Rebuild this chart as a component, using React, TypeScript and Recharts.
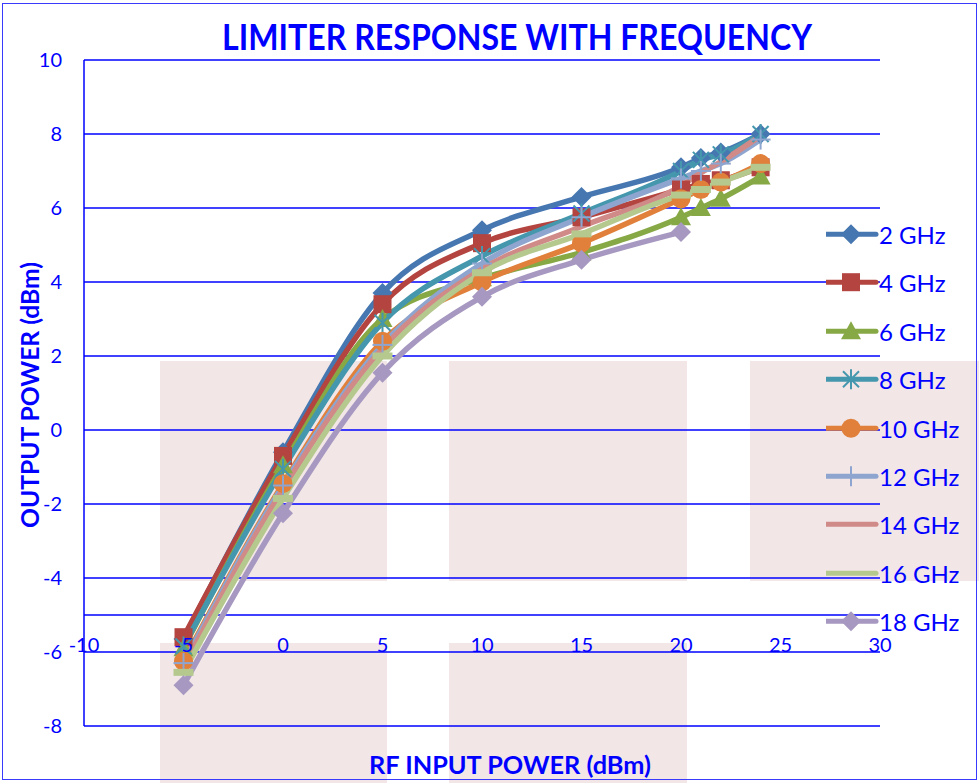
import { CartesianGrid, Line, LineChart, ReferenceLine, XAxis, YAxis } from "recharts";

// RF input power (dBm) at which each frequency was measured
const inputPower = [-5, 0, 5, 10, 15, 20, 21, 22, 24];

// output power (dBm) per frequency
const out2GHz = [-5.65, -0.6, 3.7, 5.4, 6.3, 7.1, 7.35, 7.5, 8.0];
const out4GHz = [-5.6, -0.7, 3.4, 5.05, 5.75, 6.5, 6.65, 6.75, 7.1];
const out6GHz = [-5.9, -0.95, 3.0, 4.1, 4.8, 5.75, 6.0, 6.25, 6.85];
const out8GHz = [-5.85, -1.05, 2.9, 4.7, 5.85, 7.0, 7.3, 7.45, 8.0];
const out10GHz = [-6.25, -1.45, 2.4, 4.0, 5.05, 6.25, 6.5, 6.7, 7.2];
const out12GHz = [-6.3, -1.5, 2.3, 4.5, 5.75, 6.8, 7.0, 7.2, 7.85];
const out14GHz = [-6.4, -1.6, 2.2, 4.35, 5.5, 6.6, 6.95, 7.25, 7.95];
const out16GHz = [-6.55, -1.85, 2.0, 4.25, 5.3, 6.35, 6.5, 6.7, 7.1];
const out18GHz = [-6.9, -2.25, 1.55, 3.6, 4.6, 5.35, null, null, null];

const yTicks = [-8, -6, -4, -2, 0, 2, 4, 6, 8, 10];
const xTicks = [-10, -5, 0, 5, 10, 15, 20, 25, 30];

type Shape = "diamond" | "square" | "triangle" | "star" | "circle" | "plus" | "none" | "dash";

const SERIES: { key: string; name: string; values: (number | null)[]; color: string; shape: Shape }[] = [
  { key: "g2", name: "2 GHz", values: out2GHz, color: "#4677b0", shape: "diamond" },
  { key: "g4", name: "4 GHz", values: out4GHz, color: "#b3443f", shape: "square" },
  { key: "g6", name: "6 GHz", values: out6GHz, color: "#86a845", shape: "triangle" },
  { key: "g8", name: "8 GHz", values: out8GHz, color: "#4497ad", shape: "star" },
  { key: "g10", name: "10 GHz", values: out10GHz, color: "#e0803a", shape: "circle" },
  { key: "g12", name: "12 GHz", values: out12GHz, color: "#8ea5cf", shape: "plus" },
  { key: "g14", name: "14 GHz", values: out14GHz, color: "#d08a88", shape: "none" },
  { key: "g16", name: "16 GHz", values: out16GHz, color: "#b5c98f", shape: "dash" },
  { key: "g18", name: "18 GHz", values: out18GHz, color: "#a698c0", shape: "diamond" },
];

const data = inputPower.map((x, i) => {
  const row: Record<string, number | null> = { x };
  SERIES.forEach((s) => (row[s.key] = s.values[i]));
  return row;
});

const BLUE = "#0000ff";
const FONT = "Lato, 'Noto Sans', sans-serif";

function Marker({ shape, cx, cy, color }: { shape: Shape; cx: number; cy: number; color: string }) {
  switch (shape) {
    case "diamond":
      return <polygon points={`${cx},${cy - 10} ${cx + 10},${cy} ${cx},${cy + 10} ${cx - 10},${cy}`} fill={color} />;
    case "square":
      return <rect x={cx - 9} y={cy - 9} width={18} height={18} fill={color} />;
    case "triangle":
      return <polygon points={`${cx},${cy - 10} ${cx + 10},${cy + 8} ${cx - 10},${cy + 8}`} fill={color} />;
    case "circle":
      return <circle cx={cx} cy={cy} r={9.5} fill={color} />;
    case "star":
      return (
        <g stroke={color} strokeWidth={2}>
          <line x1={cx - 8} y1={cy - 8} x2={cx + 8} y2={cy + 8} />
          <line x1={cx - 8} y1={cy + 8} x2={cx + 8} y2={cy - 8} />
          <line x1={cx} y1={cy - 10} x2={cx} y2={cy + 10} />
        </g>
      );
    case "plus":
      return (
        <g stroke={color} strokeWidth={2}>
          <line x1={cx} y1={cy - 10} x2={cx} y2={cy + 10} />
          <line x1={cx - 10} y1={cy} x2={cx + 10} y2={cy} />
        </g>
      );
    case "dash":
      return <rect x={cx - 10} y={cy - 3.5} width={20} height={7} fill={color} />;
    default:
      return null;
  }
}

function XTick({ x, y, payload }: any) {
  return (
    <text x={x} y={y} dy={-74} textAnchor="middle" fill={BLUE} fontSize={20} fontFamily={FONT}>
      {payload.value}
    </text>
  );
}

function LegendBox() {
  return (
    <div style={{ position: "absolute", left: 826, top: 210, width: 153 }}>
      {SERIES.map((s) => (
        <svg key={s.key} width={153} height={48.4} style={{ display: "block" }}>
          <line x1={0} y1={24.2} x2={50} y2={24.2} stroke={s.color} strokeWidth={5} strokeLinecap="round" />
          <Marker shape={s.shape === "dash" ? "none" : s.shape} cx={25} cy={24.2} color={s.color} />
          <text x={53} y={24.2} dominantBaseline="central" fill={BLUE} fontSize={24} fontFamily={FONT}>
            {s.name}
          </text>
        </svg>
      ))}
    </div>
  );
}

// decorative pale watermark blocks behind the plot
const pinkBlocks = [
  { left: 160, top: 361, width: 227, height: 220 },
  { left: 449, top: 361, width: 238, height: 220 },
  { left: 750, top: 361, width: 229, height: 220 },
  { left: 160, top: 643, width: 227, height: 140 },
  { left: 449, top: 643, width: 238, height: 140 },
];

export default function App() {
  return (
    <div style={{ position: "absolute", left: 0, top: 0, width: 979, height: 783, background: "#fff", overflow: "hidden" }}>
      {pinkBlocks.map((b, i) => (
        <div key={i} style={{ position: "absolute", background: "#f2e6e7", ...b }} />
      ))}
      <div style={{ position: "absolute", left: 0, top: 0 }}>
        <LineChart width={979} height={783} data={data} margin={{ top: 60, right: 99, bottom: 27, left: 0 }}>
          <CartesianGrid horizontal vertical={false} stroke={BLUE} strokeWidth={1.5} />
          <XAxis
            dataKey="x"
            type="number"
            domain={[-10, 30]}
            ticks={xTicks}
            axisLine={false}
            tickLine={false}
            tickSize={0}
            tickMargin={0}
            height={30}
            tick={<XTick />}
            interval={0}
          />
          <YAxis
            type="number"
            domain={[-8, 10]}
            ticks={yTicks}
            width={84}
            axisLine={{ stroke: BLUE, strokeWidth: 1.5 }}
            tickLine={false}
            tickSize={0}
            tickMargin={22}
            interval={0}
            tick={{ fill: BLUE, fontSize: 20, fontFamily: FONT }}
          />
          <ReferenceLine y={-5} stroke={BLUE} strokeWidth={1.5} />
          {SERIES.map((s) => (
            <Line
              key={s.key}
              dataKey={s.key}
              name={s.name}
              type="monotone"
              stroke={s.color}
              strokeWidth={5.5}
              isAnimationActive={false}
              connectNulls={false}
              activeDot={false}
              dot={(p: any) =>
                p.cy == null || p.value == null ? (
                  <g key={`${s.key}-${p.index}`} />
                ) : (
                  <g key={`${s.key}-${p.index}`}>
                    <Marker shape={s.shape} cx={p.cx} cy={p.cy} color={s.color} />
                  </g>
                )
              }
            />
          ))}
        </LineChart>
      </div>
      <LegendBox />
      <svg width={979} height={783} style={{ position: "absolute", left: 0, top: 0, pointerEvents: "none" }}>
        <text x={517} y={50} textAnchor="middle" fill={BLUE} fontSize={37} fontWeight={700} fontFamily={FONT} textLength={590} lengthAdjust="spacingAndGlyphs">
          LIMITER RESPONSE WITH FREQUENCY
        </text>
        <text x={510} y={774} textAnchor="middle" fill={BLUE} fontSize={25} fontWeight={700} fontFamily={FONT} textLength={282} lengthAdjust="spacingAndGlyphs">
          RF INPUT POWER (dBm)
        </text>
        <text
          x={0}
          y={0}
          transform="translate(39 395) rotate(-90)"
          textAnchor="middle"
          fill={BLUE}
          fontSize={25}
          fontWeight={700}
          fontFamily={FONT}
          textLength={266}
          lengthAdjust="spacingAndGlyphs"
        >
          OUTPUT POWER (dBm)
        </text>
      </svg>
      <div style={{ position: "absolute", left: 2, top: 3, width: 973, height: 775, border: "1.5px solid #3a3aff" }} />
    </div>
  );
}
